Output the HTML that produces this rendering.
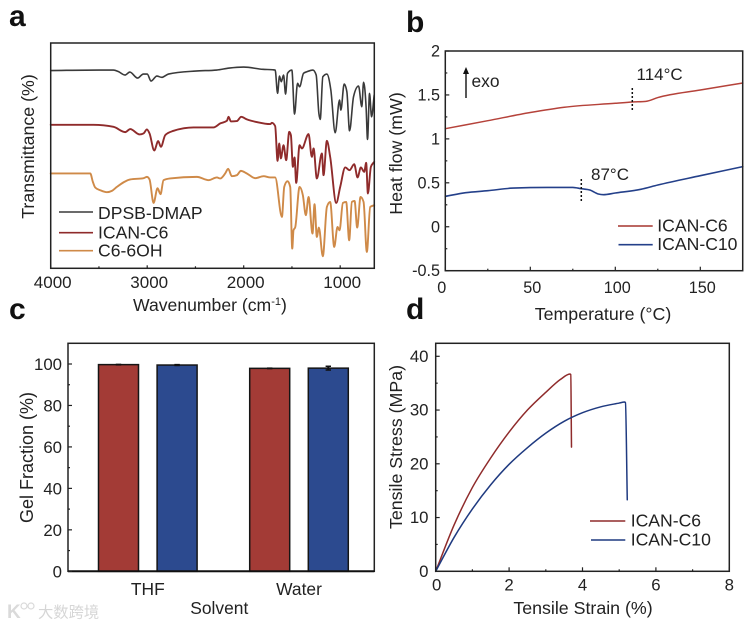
<!DOCTYPE html>
<html lang="en">
<head>
<meta charset="utf-8">
<title>ICAN characterization figure</title>
<style>
html,body{margin:0;padding:0;background:#fff;}
#figure{display:block;width:750px;height:626px;font-family:"Liberation Sans","Noto Sans CJK SC",sans-serif;fill:#222;filter:blur(0.35px);}
</style>
</head>
<body>
<svg id="figure" xmlns="http://www.w3.org/2000/svg" width="750" height="626" viewBox="0 0 750 626"></svg>
<script>
// Panel a: FTIR spectra (arbitrary transmittance units, axis 0-225)
const dpsbWavenumber = [4000,3500,3350,3300,3230,3180,3100,3040,3000,2960,2900,2850,2780,2500,2280,2150,2000,1800,1700,1674,1649,1629,1611,1587,1566,1546,1501,1473,1442,1421,1380,1345,1283,1249,1221,1207,1180,1138,1097,1052,1007,993,959,931,903,862,810,776,758,731,717,696,675,648];
const dpsbValues = [197.5,198,198,196.5,193,196,190,194,194,187,192,190.7,194,197,198,200,201,198.7,198.3,198,174.7,192,186.3,193,174,194.7,198,154,184.7,181.3,194.7,196.3,198,193,154.7,148.7,191.3,194,178,135.3,168,158,184,176.3,137.3,171.3,182,161.3,185.7,159.7,128.7,174.7,151.3,173];
const icanC6Wavenumber = [4000,3556,3349,3228,3176,3079,3038,3003,2976,2927,2886,2858,2813,2727,2520,2313,2243,2174,2157,2133,2071,2026,1967,1863,1725,1708,1674,1649,1632,1615,1587,1560,1528,1511,1490,1473,1456,1421,1397,1328,1294,1276,1242,1190,1173,1138,1104,1041,1000,948,903,855,820,786,751,731,713,682,648];
const icanC6Values = [143.3,143.3,141.3,136,139,133.7,134.7,138.7,134.7,117.7,127,121.3,133,137.3,140.7,140.7,144.7,147.3,151.3,146.7,147,151.3,148.7,146,144,145.3,142,107.3,124.7,109.7,123,108,136.3,133,101.3,110.7,85.3,123,119.7,134,111.3,119.7,89.7,114.7,93,127.3,111.3,65.3,81.3,100.7,98,104,90.7,100.7,96.3,105.3,74.7,101.3,106.3];
const c6OhWavenumber = [4000,3590,3563,3539,3487,3418,3366,3314,3176,3038,3003,2976,2934,2893,2862,2831,2762,2485,2364,2278,2243,2192,2161,2123,2071,2029,1967,1881,1794,1725,1674,1604,1580,1546,1518,1497,1484,1466,1421,1387,1356,1328,1287,1266,1242,1221,1180,1138,1104,1062,1028,1007,972,938,907,879,851,824,789,758,724,689,648];
const c6OhValues = [94.7,94.7,86.3,80.7,78,76,77.3,81.3,88.7,90,91.3,88.7,65.3,80,74,88,89.7,91.3,88,90.7,89.7,94.7,99.3,92,93,97.3,94.7,90,92,90.7,90.7,51.3,81.3,87,81.3,19.7,38,41,81.3,73,53,71.3,34.7,64,31.3,40.7,12,61.3,66.3,21.3,41.3,38,65.3,66.3,28,66.3,67.3,40.7,71.3,66.3,16.3,61.3,63];
const irTickLabels = [4000,3000,2000,1000];
const irMinorTicks = [3500,2500,1500];
const irLegendNames = ["DPSB-DMAP","ICAN-C6","C6-6OH"];

// Panel b: DSC
const dscC6Temp = [0,25,50,70,100,110,118,125,150,175];
const dscC6Flow = [1.116,1.207,1.30,1.36,1.405,1.42,1.427,1.47,1.556,1.636];
const dscC10Temp = [0,12,25,40,60,75,80,85,90,93,100,115,125,150,175];
const dscC10Flow = [0.346,0.388,0.41,0.44,0.448,0.448,0.433,0.418,0.373,0.365,0.384,0.426,0.475,0.581,0.684];
const dscXTicks = [0,50,100,150];
const dscXMinor = [25,75,125];
const dscYTicks = [2,1.5,1,0.5,0,-0.5];
const dscYMinor = [1.75,1.25,0.75,0.25,-0.25];

// Panel c: gel fraction
const gelCategories = ["THF","Water"];
const gelC6 = [99.7,97.9];
const gelC10 = [99.5,98];
const gelC6Err = [0.1,0.1];
const gelC10Err = [0.2,0.9];
const gelYTicks = [0,20,40,60,80,100];
const gelYMinor = [10,30,50,70,90];

// Panel d: tensile
const tensileC6Strain = [0,0.5,1,1.5,2,2.5,3,3.4,3.66,3.68,3.7];
const tensileC6Stress = [0,8.6,15.6,21.1,25.9,30,33.3,35.7,36.7,36.6,23.1];
const tensileC10Strain = [0,0.5,1,1.5,2,2.5,3,3.5,4,4.5,5,5.15,5.17,5.22];
const tensileC10Stress = [0,6.3,11.6,16.1,19.9,23,25.7,27.9,29.5,30.6,31.3,31.5,31.4,13.3];
const tensileXTicks = [0,2,4,6,8];
const tensileXMinor = [1,3,5,7];
const tensileYTicks = [0,10,20,30,40];
const tensileYMinor = [5,15,25,35];

const svg = document.getElementById('figure');
const NS = 'http://www.w3.org/2000/svg';
const INK = '#222';
const RED = '#8f2b2b';
const BLUE = '#24408a';

function make(tag, attrs, parent){
  const node = document.createElementNS(NS, tag);
  for (const k in attrs) node.setAttribute(k, attrs[k]);
  (parent || svg).appendChild(node);
  return node;
}
function label(str, x, y, size, anchor, rotate, parent){
  const attrs = {x:x, y:y, 'font-size':size, 'text-anchor':anchor || 'start'};
  if (rotate) attrs.transform = 'rotate(-90 ' + x + ' ' + y + ')';
  const t = make('text', attrs, parent);
  t.textContent = str;
  return t;
}
function frame(l, t, r, b){
  const f = make('rect', {x:l, y:t, width:r-l, height:b-t, fill:'none', stroke:INK, 'stroke-width':1.5});
  
  
}
function xTick(px, bottom, len){
  const n = make('line', {x1:px, x2:px, y1:bottom, y2:bottom-len, stroke:INK, 'stroke-width':1.2});
  
  
}
function yTick(py, left, len){
  const n = make('line', {x1:left, x2:left+len, y1:py, y2:py, stroke:INK, 'stroke-width':1.2});
  
  
}
// Monotone cubic path through the data points, so peaks round off without overshoot
function smoothPath(px, py){
  const n = px.length, m = [], s = [];
  for (let i = 0; i < n - 1; i++) s[i] = (py[i+1] - py[i]) / (px[i+1] - px[i]);
  m[0] = s[0];
  m[n-1] = s[n-2];
  for (let i = 1; i < n - 1; i++) {
    if (s[i-1] * s[i] <= 0) { m[i] = 0; continue; }
    const h0 = px[i] - px[i-1], h1 = px[i+1] - px[i];
    const mid = (s[i-1] * h1 + s[i] * h0) / (h0 + h1);
    m[i] = Math.sign(s[i]) * Math.min(Math.abs(s[i-1]), Math.abs(s[i]), Math.abs(mid) / 2) * 2;
  }
  let d = 'M' + px[0].toFixed(2) + ',' + py[0].toFixed(2);
  for (let i = 0; i < n - 1; i++) {
    const h = (px[i+1] - px[i]) / 3;
    d += 'C' + (px[i] + h).toFixed(2) + ',' + (py[i] + m[i] * h).toFixed(2) + ' ' +
         (px[i+1] - h).toFixed(2) + ',' + (py[i+1] - m[i+1] * h).toFixed(2) + ' ' +
         px[i+1].toFixed(2) + ',' + py[i+1].toFixed(2);
  }
  return d;
}
function seriesLine(xs, ys, sx, sy, color, width, name){
  const n = make('path', {d:smoothPath(xs.map(sx), ys.map(sy)), fill:'none', stroke:color, 'stroke-width':width, 'stroke-linejoin':'round', 'stroke-linecap':'round'});
  
  
}
function legendEntry(x1, x2, y, tx, ty, color, str, size){
  const l = make('line', {x1:x1, x2:x2, y1:y, y2:y, stroke:color, 'stroke-width':1.6});
  
  
  const t = label(str, tx, ty, size);
  
  
}
function panelLetter(str, x, y){
  const t = label(str, x, y, 30);
  t.setAttribute('font-weight', 'bold');
  t.setAttribute('fill', '#111');
  
  
}
function named(node, name){
  
  
  return node;
}

/* ---------- Panel a ---------- */
panelLetter('a', 9, 26);
const axL = 50.7, axR = 374.3, axT = 43, axB = 268.3;
const axX = v => axL + (4000 - v) * 0.0965;
const axY = v => axB - (v / 225) * (axB - axT);
seriesLine(dpsbWavenumber, dpsbValues, axX, axY, '#3a3a3a', 1.6, 'series-dpsb-dmap');
seriesLine(icanC6Wavenumber, icanC6Values, axX, axY, RED, 1.9, 'series-ican-c6');
seriesLine(c6OhWavenumber, c6OhValues, axX, axY, '#cf8a48', 1.9, 'series-c6-6oh');
frame(axL, axT, axR, axB);
irTickLabels.forEach(v => {
  xTick(axX(v), axB, 3);
  named(label(String(v), axX(v) + 2, 288, 17, 'middle'), 'x-tick-label');
});
irMinorTicks.forEach(v => xTick(axX(v), axB, 2));
named(label('Transmittance (%)', 34, 146.5, 17.8, 'middle', true), 'y-axis-title');
const waveTitle = label('Wavenumber (cm', 133, 311, 17.6);
named(waveTitle, 'x-axis-title');
const waveSup = make('tspan', {dy:-6, 'font-size':11}, waveTitle);
waveSup.textContent = '-1';
const waveEnd = make('tspan', {dy:6}, waveTitle);
waveEnd.textContent = ')';
legendEntry(59, 93, 212, 98, 219, '#3a3a3a', irLegendNames[0], 17.6);
legendEntry(59, 93, 232.7, 98, 238.5, RED, irLegendNames[1], 17.6);
legendEntry(59, 93, 250.7, 98, 256.7, '#cf8a48', irLegendNames[2], 17.6);

/* ---------- Panel b ---------- */
panelLetter('b', 406, 32);
const bxL = 445.3, bxR = 742.7, bxT = 51, bxB = 270.7;
const bX = v => bxL + v * 1.7;
const bY = v => bxB - (v + 0.5) / 2.5 * (bxB - bxT);
seriesLine(dscC6Temp, dscC6Flow, bX, bY, '#b5423a', 1.5, 'series-ican-c6-dsc');
seriesLine(dscC10Temp, dscC10Flow, bX, bY, BLUE, 1.6, 'series-ican-c10-dsc');
frame(bxL, bxT, bxR, bxB);
dscXTicks.forEach(v => {
  xTick(bX(v), bxB, 4);
  named(label(String(v), bX(v) + (v === 0 ? -3.5 : 2), 293, 16.2, 'middle'), 'x-tick-label');
});
dscXMinor.forEach(v => xTick(bX(v), bxB, 2));
dscYTicks.forEach(v => {
  yTick(bY(v), bxL, 4);
  named(label(String(v), 440, bY(v) + 5.5, 16.2, 'end'), 'y-tick-label');
});
dscYMinor.forEach(v => yTick(bY(v), bxL, 2));
named(label('Heat flow (mW)', 402, 153.5, 17.8, 'middle', true), 'y-axis-title');
named(label('Temperature (°C)', 603, 320, 17.8, 'middle'), 'x-axis-title');
named(make('line', {x1:bX(110), x2:bX(110), y1:88, y2:112, stroke:'#111', 'stroke-width':1.5, 'stroke-dasharray':'2 2'}), 'transition-marker-114');
named(make('line', {x1:bX(80), x2:bX(80), y1:179, y2:202, stroke:'#111', 'stroke-width':1.5, 'stroke-dasharray':'2 2'}), 'transition-marker-87');
named(label('114°C', 636.5, 80, 17), 'annotation-114c');
named(label('87°C', 591, 180, 17), 'annotation-87c');
named(make('line', {x1:466, x2:466, y1:72, y2:98, stroke:'#111', 'stroke-width':1.4}), 'exo-arrow-shaft');
named(make('polygon', {points:'466,67 463,74 469,74', fill:'#111'}), 'exo-arrow-head');
named(label('exo', 471.5, 87, 17.4), 'exo-label');
legendEntry(618, 652.7, 226, 657.3, 231.5, '#a5352f', 'ICAN-C6', 17.6);
legendEntry(618.5, 652.7, 244.7, 657.3, 250, BLUE, 'ICAN-C10', 17.6);

/* ---------- Panel c ---------- */
panelLetter('c', 9, 319);
const cxL = 68, cxR = 374.3, cxT = 343.3, cxB = 571.3;
const cY = v => cxB - v * 2.073;
const cCenter = i => 147.8 + i * 151.2;
const barOffset = 29.3, barWidth = 40;
function bar(i, value, err, sign, fill, name){
  const cx = cCenter(i) + sign * barOffset;
  const r = make('rect', {x:cx - barWidth/2, y:cY(value), width:barWidth, height:cxB - cY(value), fill:fill, stroke:'#151515', 'stroke-width':1.5});
  
  
  const e = make('line', {x1:cx, x2:cx, y1:cY(value + err), y2:cY(value - err), stroke:'#111', 'stroke-width':2});
  
  
  const c = make('line', {x1:cx - 2.7, x2:cx + 2.7, y1:cY(value + err), y2:cY(value + err), stroke:'#111', 'stroke-width':1.5});
  
  
  const d = make('line', {x1:cx - 2.7, x2:cx + 2.7, y1:cY(value - err), y2:cY(value - err), stroke:'#111', 'stroke-width':1.5});
  
  
}
gelCategories.forEach((cat, i) => {
  bar(i, gelC6[i], gelC6Err[i], -1, '#a33b36', 'bar-c6-' + cat.toLowerCase());
  bar(i, gelC10[i], gelC10Err[i], 1, '#2c4a8f', 'bar-c10-' + cat.toLowerCase());
  named(label(cat, cCenter(i), 595, 17.4, 'middle'), 'x-category-label');
});
frame(cxL, cxT, cxR, cxB);
named(make('line', {x1:cxL, x2:cxR, y1:cxB, y2:cxB, stroke:'#111', 'stroke-width':2}), 'x-axis-line');
gelYTicks.forEach(v => {
  yTick(cY(v), cxL, 4);
  named(label(String(v), 62, cY(v) + 6, 16.8, 'end'), 'y-tick-label');
});
gelYMinor.forEach(v => yTick(cY(v), cxL, 2));
named(label('Gel Fraction (%)', 33, 457.5, 18, 'middle', true), 'y-axis-title');
named(label('Solvent', 219.3, 614, 17.4, 'middle'), 'x-axis-title');

/* ---------- Panel d ---------- */
panelLetter('d', 406, 319);
const dxL = 435.7, dxR = 729.3, dxT = 343.3, dxB = 571.3;
const dX = v => dxL + v * 36.7;
const dY = v => dxB - v * 5.375;
seriesLine(tensileC6Strain, tensileC6Stress, dX, dY, RED, 1.5, 'series-ican-c6-tensile');
seriesLine(tensileC10Strain, tensileC10Stress, dX, dY, '#1f3a80', 1.5, 'series-ican-c10-tensile');
frame(dxL, dxT, dxR, dxB);
tensileXTicks.forEach(v => {
  xTick(dX(v), dxB, 4);
  named(label(String(v), dX(v) + (v === 0 ? 1 : 0), 590.7, 16.8, 'middle'), 'x-tick-label');
});
tensileXMinor.forEach(v => xTick(dX(v), dxB, 2));
tensileYTicks.forEach(v => {
  yTick(dY(v), dxL, 4);
  named(label(String(v), 428.5, dY(v) + 5.5, 16.8, 'end'), 'y-tick-label');
});
tensileYMinor.forEach(v => yTick(dY(v), dxL, 2));
named(label('Tensile Stress (MPa)', 402, 447, 17.8, 'middle', true), 'y-axis-title');
named(label('Tensile Strain (%)', 583, 614, 17.8, 'middle'), 'x-axis-title');
legendEntry(590, 625.3, 521, 630.7, 526.5, RED, 'ICAN-C6', 17.6);
legendEntry(591, 625.3, 540, 630.7, 545.5, '#1f3a80', 'ICAN-C10', 17.6);

/* ---------- Watermark ---------- */
const wm = named(make('g', {opacity:0.9}), 'watermark');
named(make('text', {x:7, y:618, 'font-size':19, fill:'#d6d6d6', 'font-weight':'bold'}, wm), 'watermark-logo').textContent = 'K';
named(make('circle', {cx:24, cy:606, r:3, fill:'none', stroke:'#d6d6d6', 'stroke-width':1.2}, wm), 'watermark-dot-left');
named(make('circle', {cx:31, cy:606, r:3, fill:'none', stroke:'#d6d6d6', 'stroke-width':1.2}, wm), 'watermark-dot-right');
named(make('text', {x:38, y:617.5, 'font-size':15.3, fill:'#d2d2d2'}, wm), 'watermark-text').textContent = '大数跨境';
</script>
</body>
</html>
